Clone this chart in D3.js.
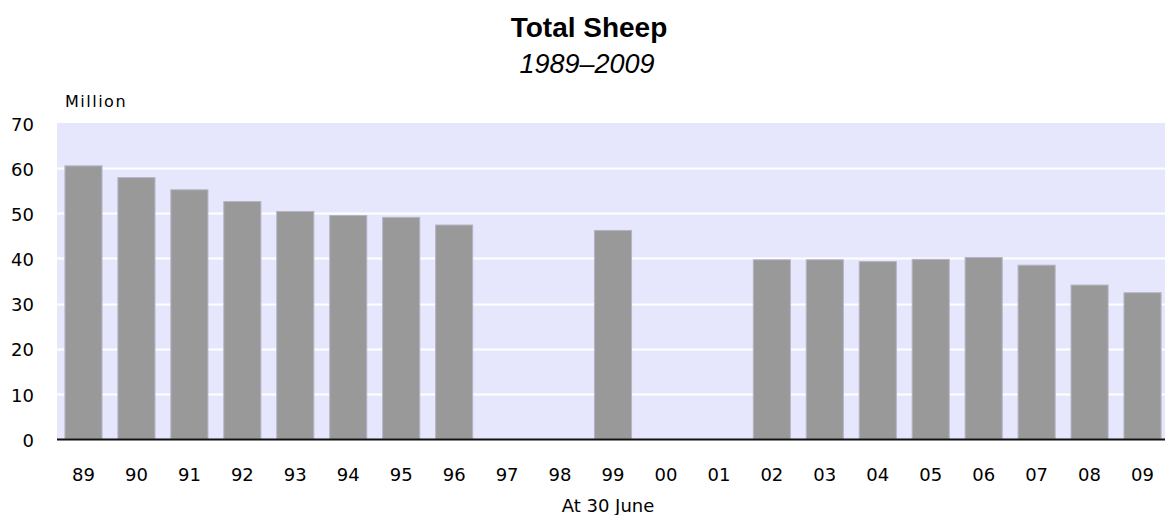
<!DOCTYPE html>
<html>
<head>
    <script src="https://d3js.org/d3.v7.min.js"></script>
    <style>
        body { margin: 0; background: #fff; }
        text { fill: #000; }
    </style>
</head>
<body>
    <script>
        // years (x categories) and sheep totals in millions; null = no survey
        const years = ["89", "90", "91", "92", "93", "94", "95", "96", "97", "98", "99",
                       "00", "01", "02", "03", "04", "05", "06", "07", "08", "09"];
        const sheep = [60.5, 57.9, 55.2, 52.6, 50.4, 49.5, 49.1, 47.4, null, null, 46.2,
                       null, null, 39.7, 39.7, 39.3, 39.8, 40.2, 38.5, 34.1, 32.4];
        const yTicks = [0, 10, 20, 30, 40, 50, 60, 70];

        const width = 1165;
        const height = 515;
        const margin = { top: 123, right: 0, bottom: 76, left: 57 };
        const labelFont = "DejaVu Sans, Verdana, sans-serif";

        const svg = d3.select("body").append("svg")
            .attr("width", width)
            .attr("height", height);

        const x = d3.scaleBand()
            .domain(years)
            .range([margin.left, 1169])
            .paddingInner(0.3)
            .paddingOuter(0.15);

        const y = d3.scaleLinear()
            .domain([0, 70])
            .range([height - margin.bottom, margin.top]);

        // plot background
        svg.append("rect")
            .attr("x", margin.left)
            .attr("y", y(70))
            .attr("width", width - margin.left)
            .attr("height", y(0) - y(70))
            .attr("fill", "#e6e6fc");

        // gridlines
        svg.append("g")
            .selectAll("line")
            .data(yTicks.filter(d => d > 0 && d < 70))
            .join("line")
            .attr("x1", margin.left)
            .attr("x2", width)
            .attr("y1", d => Math.round(y(d)) + 0.5)
            .attr("y2", d => Math.round(y(d)) + 0.5)
            .attr("stroke", "#fff")
            .attr("stroke-width", 2);

        // bars
        svg.append("g")
            .selectAll("rect")
            .data(years.map((yr, i) => ({ yr, v: sheep[i] })).filter(d => d.v != null))
            .join("rect")
            .attr("x", d => x(d.yr))
            .attr("y", d => y(d.v))
            .attr("width", x.bandwidth())
            .attr("height", d => y(0) - y(d.v))
            .attr("fill", "#999999")
            .attr("stroke", "#b4b4c4")
            .attr("stroke-width", 1);

        // baseline
        svg.append("line")
            .attr("x1", margin.left)
            .attr("x2", width)
            .attr("y1", y(0) + 0.5)
            .attr("y2", y(0) + 0.5)
            .attr("stroke", "#111")
            .attr("stroke-width", 2);

        // y axis labels
        const yAxis = svg.append("g")
            .attr("transform", "translate(34,0)")
            .call(d3.axisLeft(y).tickValues(yTicks).tickSize(0).tickPadding(0));
        yAxis.select(".domain").remove();
        yAxis.selectAll("text")
            .attr("font-family", labelFont)
            .attr("font-size", 18)
            .attr("dy", "0.4em")
            .attr("fill", "#000");

        // x axis labels
        const xAxis = svg.append("g")
            .attr("transform", `translate(0,${y(0)})`)
            .call(d3.axisBottom(x).tickSize(0).tickPadding(29));
        xAxis.select(".domain").remove();
        xAxis.selectAll("text")
            .attr("font-family", labelFont)
            .attr("font-size", 18)
            .attr("fill", "#000");

        // titles
        svg.append("text")
            .attr("x", 589)
            .attr("y", 37)
            .attr("text-anchor", "middle")
            .attr("font-family", "Liberation Sans, Arial, sans-serif")
            .attr("font-size", 28)
            .attr("font-weight", "bold")
            .text("Total Sheep");

        svg.append("text")
            .attr("x", 587)
            .attr("y", 73)
            .attr("text-anchor", "middle")
            .attr("font-family", "Liberation Sans, Arial, sans-serif")
            .attr("font-size", 27)
            .attr("font-style", "italic")
            .text("1989–2009");

        svg.append("text")
            .attr("x", 65)
            .attr("y", 107)
            .attr("font-family", labelFont)
            .attr("font-size", 16)
            .attr("letter-spacing", 1.5)
            .text("Million");

        svg.append("text")
            .attr("x", 608)
            .attr("y", 512)
            .attr("text-anchor", "middle")
            .attr("font-family", labelFont)
            .attr("font-size", 18)
            .text("At 30 June");
    </script>
</body>
</html>
